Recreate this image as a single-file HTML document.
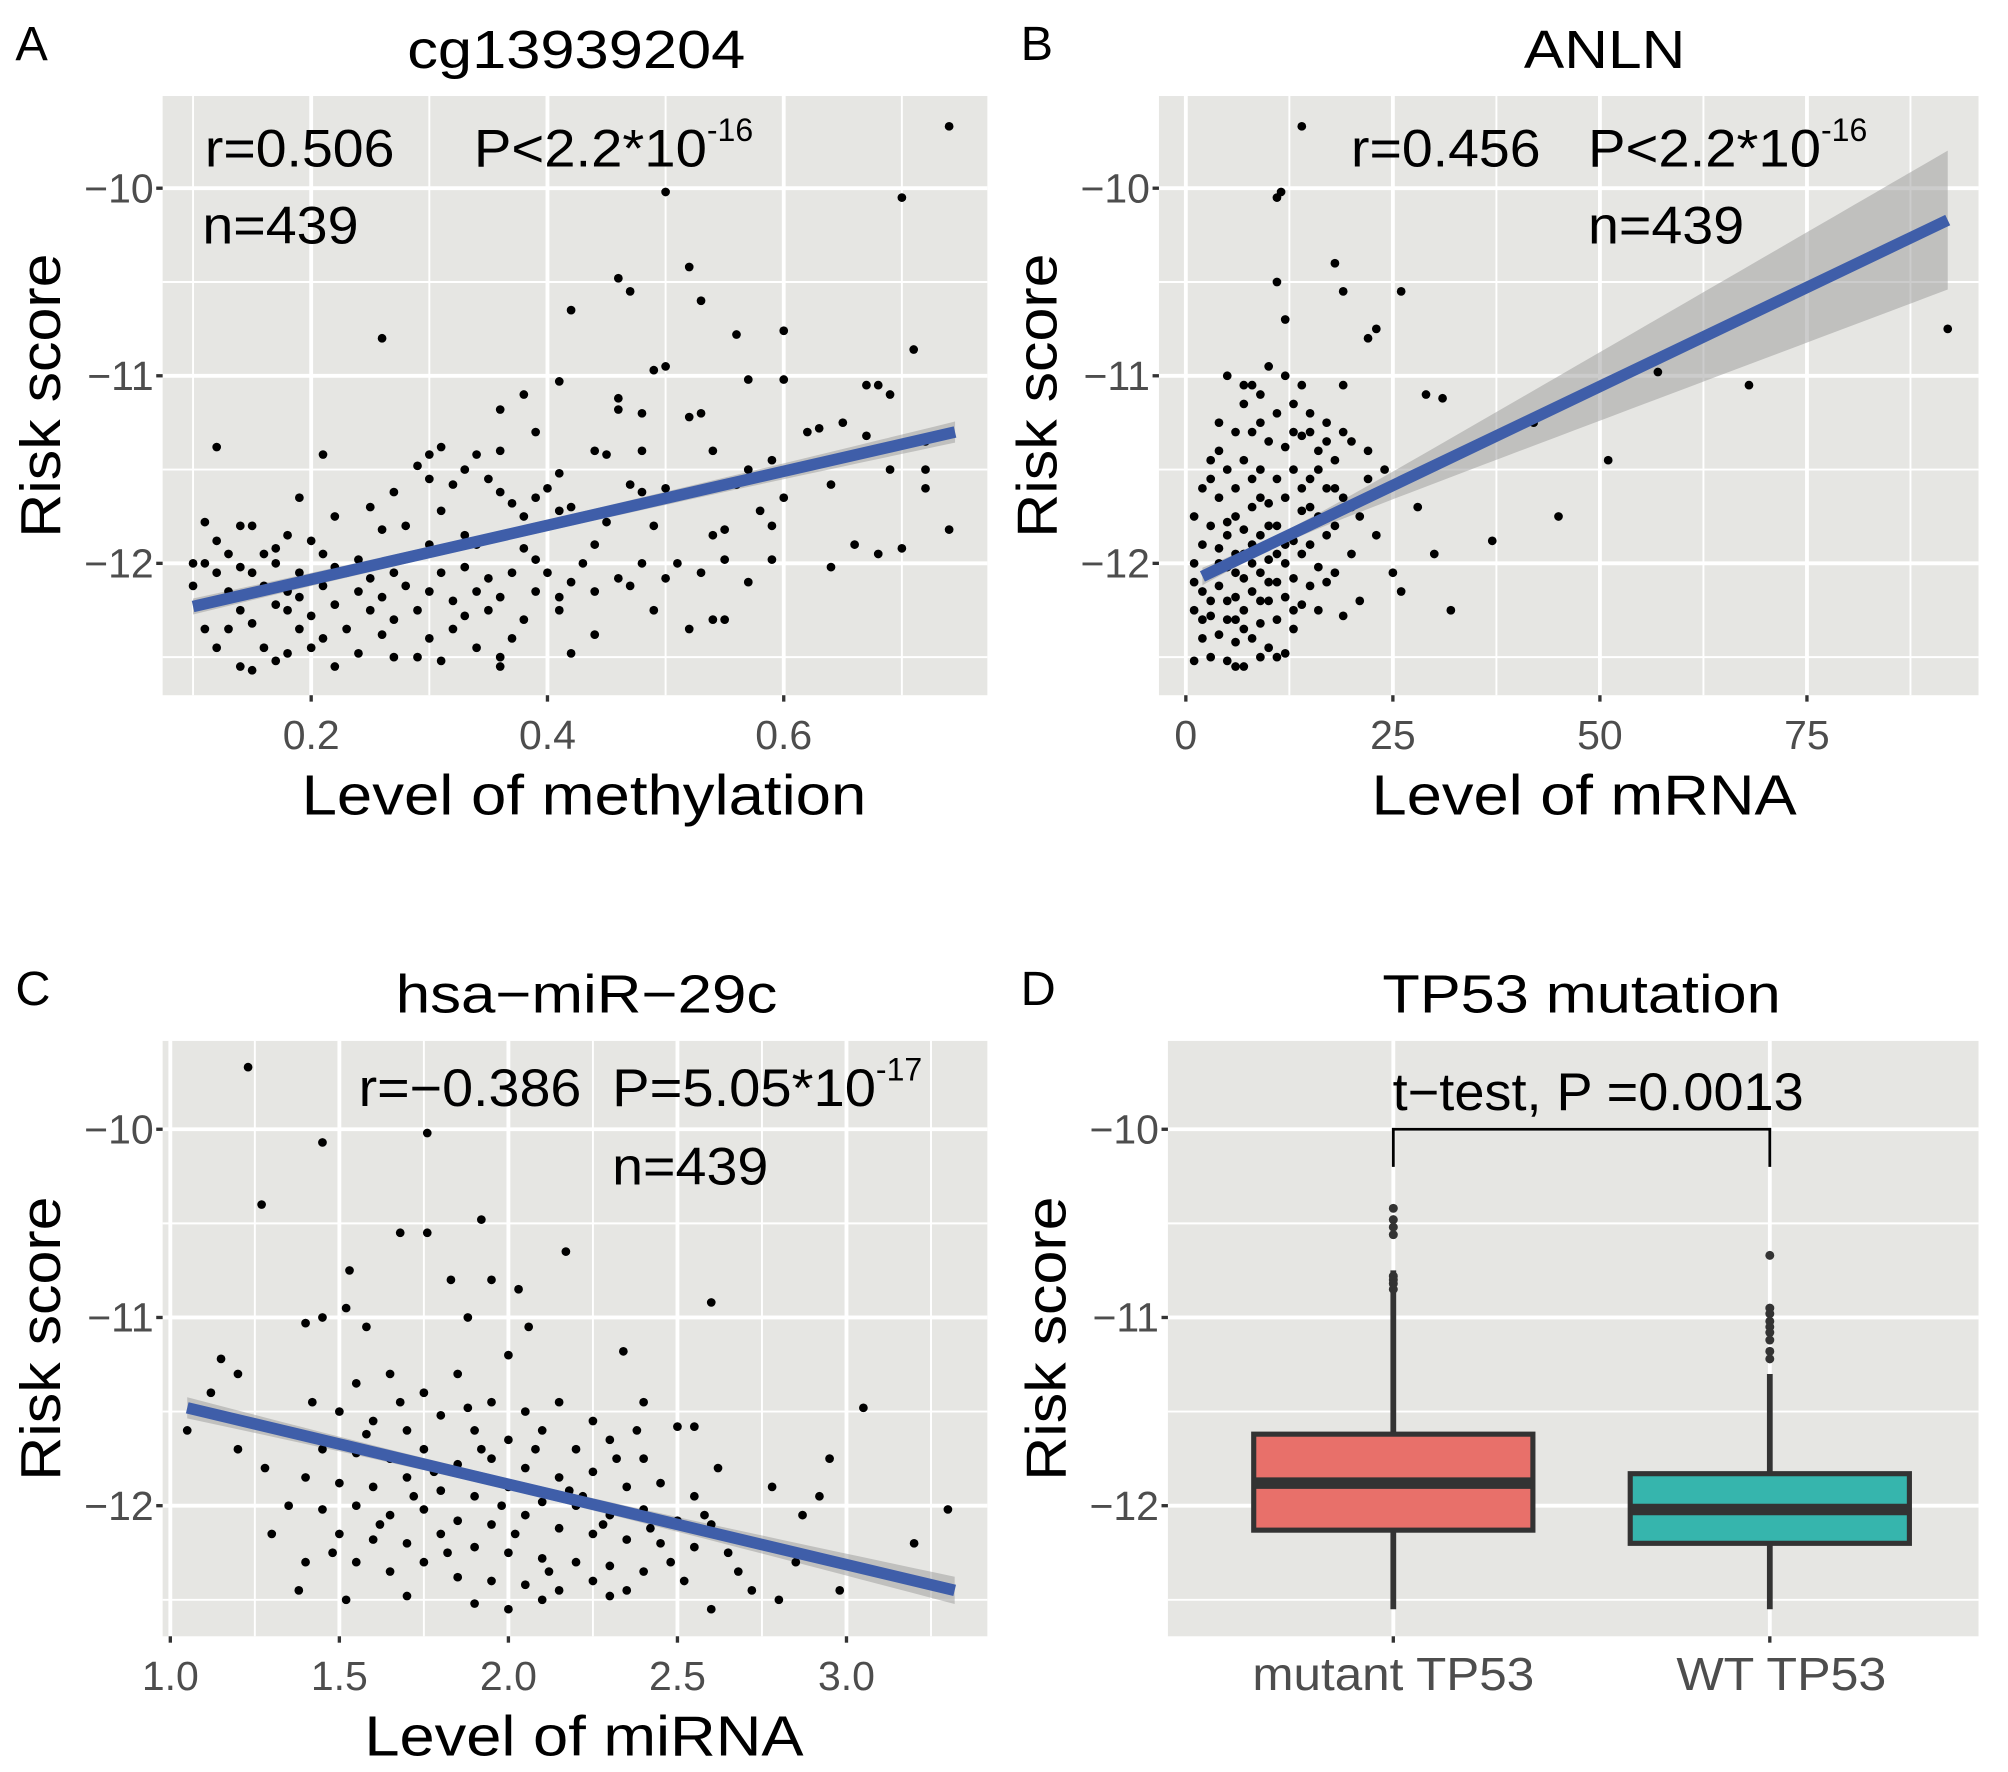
<!DOCTYPE html>
<html><head><meta charset="utf-8">
<style>
html,body{margin:0;padding:0;background:#fff;}
svg{display:block;font-family:"Liberation Sans",Arial,sans-serif;}
</style></head>
<body>
<svg id="fig" width="2008" height="1772" viewBox="0 0 1568 1384" preserveAspectRatio="none" xmlns="http://www.w3.org/2000/svg"></svg>
<script>
// ---- Panel A data (methylation vs risk) ----
const aX = [0.74,0.50,0.70,0.52,0.46,0.47,0.53,0.42,0.26,0.56,0.60,0.71,0.50,0.49,0.41,0.57,0.60,0.67,0.68,0.69,0.38,0.46,0.36,0.46,0.48,0.53,0.52,0.65,0.63,0.62,0.39,0.67,0.12,0.31,0.30,0.21,0.34,0.36,0.44,0.45,0.48,0.54,0.59,0.72,0.72,0.29,0.57,0.33,0.35,0.41,0.30,0.32,0.40,0.47,0.50,0.56,0.64,0.69,0.72,0.27,0.36,0.39,0.48,0.19,0.37,0.42,0.31,0.60,0.58,0.25,0.22,0.38,0.41,0.45,0.49,0.11,0.14,0.15,0.26,0.28,0.33,0.36,0.54,0.55,0.59,0.74,0.12,0.18,0.20,0.30,0.34,0.38,0.44,0.66,0.70,0.68,0.13,0.16,0.17,0.21,0.24,0.29,0.39,0.43,0.48,0.51,0.55,0.59,0.64,0.10,0.11,0.12,0.14,0.15,0.17,0.19,0.20,0.22,0.23,0.25,0.27,0.31,0.33,0.35,0.37,0.40,0.42,0.46,0.50,0.53,0.57,0.10,0.13,0.16,0.18,0.19,0.21,0.24,0.26,0.28,0.30,0.32,0.34,0.36,0.39,0.41,0.44,0.47,0.11,0.14,0.17,0.18,0.20,0.22,0.25,0.27,0.29,0.33,0.35,0.38,0.41,0.49,0.52,0.54,0.55,0.11,0.13,0.15,0.19,0.21,0.23,0.26,0.30,0.32,0.37,0.44,0.12,0.16,0.18,0.20,0.24,0.27,0.29,0.34,0.36,0.42,0.14,0.15,0.17,0.31,0.36,0.22];
const aY = [-9.67,-10.02,-10.05,-10.42,-10.48,-10.55,-10.6,-10.65,-10.8,-10.78,-10.76,-10.86,-10.95,-10.97,-11.03,-11.02,-11.02,-11.05,-11.05,-11.1,-11.1,-11.12,-11.18,-11.18,-11.2,-11.2,-11.22,-11.25,-11.28,-11.3,-11.3,-11.32,-11.38,-11.38,-11.42,-11.42,-11.42,-11.4,-11.4,-11.42,-11.4,-11.4,-11.45,-11.35,-11.5,-11.48,-11.5,-11.5,-11.55,-11.52,-11.55,-11.58,-11.6,-11.58,-11.6,-11.58,-11.58,-11.5,-11.6,-11.62,-11.62,-11.65,-11.62,-11.65,-11.68,-11.7,-11.72,-11.65,-11.72,-11.7,-11.75,-11.75,-11.72,-11.78,-11.8,-11.78,-11.8,-11.8,-11.82,-11.8,-11.85,-11.85,-11.85,-11.82,-11.8,-11.82,-11.88,-11.85,-11.88,-11.9,-11.9,-11.92,-11.9,-11.9,-11.92,-11.95,-11.95,-11.95,-11.92,-11.95,-11.98,-11.95,-11.98,-12.0,-12.0,-12.0,-11.98,-11.98,-12.02,-12.0,-12.0,-12.05,-12.02,-12.05,-12.0,-12.05,-12.08,-12.02,-12.05,-12.08,-12.05,-12.05,-12.02,-12.08,-12.05,-12.05,-12.1,-12.08,-12.08,-12.05,-12.1,-12.12,-12.15,-12.12,-12.15,-12.18,-12.12,-12.15,-12.18,-12.12,-12.15,-12.2,-12.15,-12.18,-12.15,-12.18,-12.15,-12.12,-12.22,-12.25,-12.22,-12.25,-12.28,-12.22,-12.25,-12.3,-12.25,-12.28,-12.25,-12.3,-12.25,-12.25,-12.35,-12.3,-12.3,-12.35,-12.35,-12.32,-12.35,-12.4,-12.35,-12.38,-12.4,-12.35,-12.4,-12.38,-12.45,-12.45,-12.48,-12.45,-12.48,-12.5,-12.5,-12.45,-12.5,-12.48,-12.55,-12.57,-12.52,-12.52,-12.55,-12.55];
const aFitX = [0.10,0.745];
const aFitY = [-12.23,-11.3];
const aXTicks = [0.2,0.4,0.6];
const aXTickLabels = ["0.2","0.4","0.6"];
const aXMinor = [0.1,0.3,0.5,0.7];

// ---- Panel B data (mRNA vs risk) ----
const bX = [14,11,11.5,11,18,19,12,26,22,23,92,57,68,29,31,42,51,45,37,30,25,26,32,28,21,5,8,10,12,14,7,9,11,13,15,17,19,6,4,8,10,12,14,16,18,20,3,5,7,9,11,13,15,17,19,22,24,2,4,6,8,10,12,14,16,18,21,1,3,5,7,9,11,13,15,17,20,2,4,6,8,10,12,14,16,18,1,3,5,7,9,11,13,15,17,2,4,6,8,10,12,14,16,19,1,3,5,7,9,11,13,2,4,6,8,10,12,3,5,7,9,11,1,6,4,6,8,10,6,8,4,3,5,7,9,11,13,15,7,9,5,3,2,1,6,10,12,14,16,18,20,22,19,23,17,15,13,9,7];
const bY = [-9.67,-10.05,-10.02,-10.5,-10.4,-10.55,-10.7,-10.55,-10.8,-10.75,-10.75,-10.98,-11.05,-11.1,-11.12,-11.25,-11.45,-11.75,-11.88,-11.95,-12.05,-12.15,-12.25,-11.7,-12.2,-11.0,-11.05,-10.95,-11.0,-11.05,-11.15,-11.1,-11.2,-11.15,-11.2,-11.25,-11.3,-11.3,-11.25,-11.3,-11.35,-11.38,-11.32,-11.4,-11.45,-11.35,-11.45,-11.5,-11.45,-11.5,-11.55,-11.5,-11.55,-11.6,-11.65,-11.55,-11.5,-11.6,-11.65,-11.6,-11.7,-11.68,-11.65,-11.72,-11.75,-11.8,-11.75,-11.75,-11.8,-11.78,-11.82,-11.85,-11.8,-11.88,-11.9,-11.85,-11.95,-11.9,-11.92,-11.95,-11.9,-11.98,-12.0,-11.95,-12.02,-12.05,-12.0,-12.05,-12.02,-12.08,-12.05,-12.1,-12.08,-12.12,-12.1,-12.15,-12.12,-12.18,-12.15,-12.2,-12.18,-12.22,-12.25,-12.28,-12.25,-12.28,-12.3,-12.25,-12.32,-12.3,-12.35,-12.4,-12.38,-12.42,-12.4,-12.45,-12.48,-12.5,-12.52,-12.55,-12.5,-12.5,-12.52,-12.55,-11.4,-11.75,-11.55,-11.8,-12.3,-12.0,-12.0,-12.2,-12.2,-12.35,-12.2,-11.95,-12.25,-11.7,-11.95,-11.65,-11.85,-11.55,-12.3,-12.1,-12.05,-12.1,-11.9,-11.6,-11.5,-11.6,-11.7,-11.4,-11.05,-11.85,-11.35,-11.3,-11.3,-11.25,-11.05];
const bFitX = [2,92];
const bFitY = [-12.07,-10.17];
const bXTicks = [0,25,50,75];
const bXTickLabels = ["0","25","50","75"];
const bXMinor = [12.5,37.5,62.5,87.5];

// ---- Panel C data (miRNA vs risk) ----
const cX = [1.23,1.27,1.45,1.76,1.68,1.76,1.92,2.17,2.6,1.53,1.52,1.83,1.95,2.03,1.4,1.45,1.58,1.88,2.06,2.34,3.05,2.0,1.05,1.12,1.2,1.15,3.3,3.2,2.87,2.92,2.95,2.5,2.55,2.4,2.98,2.8,1.52,1.3,1.4,1.55,1.65,1.75,1.85,1.95,2.05,2.15,2.25,1.5,1.6,1.7,1.8,1.9,2.0,2.1,2.2,2.3,2.4,1.45,1.55,1.65,1.75,1.85,1.95,2.05,2.15,2.25,2.35,2.45,2.55,1.4,1.5,1.6,1.7,1.8,1.9,2.0,2.1,2.2,2.3,2.4,2.5,2.6,1.35,1.45,1.55,1.65,1.75,1.85,1.95,2.05,2.15,2.25,2.35,2.45,2.55,2.65,2.75,1.5,1.6,1.7,1.8,1.9,2.0,2.1,2.2,2.3,2.4,1.55,1.65,1.75,1.85,1.95,2.05,2.15,2.25,2.35,1.7,1.9,2.0,2.1,2.3,2.6,1.58,1.68,1.78,1.88,1.98,2.08,2.18,2.28,2.38,2.48,2.58,2.68,2.78,1.42,1.32,1.28,1.2,1.62,1.72,1.82,1.92,2.02,2.12,2.22,2.32,2.42,2.52,2.62,2.72,2.85,1.48,1.38];
const cY = [-9.67,-10.4,-10.07,-10.02,-10.55,-10.55,-10.48,-10.65,-10.92,-10.75,-10.95,-10.8,-10.8,-10.85,-11.03,-11.0,-11.05,-11.0,-11.05,-11.18,-11.48,-11.2,-11.6,-11.4,-11.3,-11.22,-12.02,-12.2,-12.05,-11.95,-11.75,-11.58,-11.58,-11.45,-12.45,-12.5,-12.5,-12.15,-12.3,-11.35,-11.3,-11.4,-11.3,-11.45,-11.5,-11.45,-11.55,-11.5,-11.55,-11.6,-11.52,-11.6,-11.65,-11.6,-11.7,-11.65,-11.75,-11.7,-11.72,-11.75,-11.7,-11.78,-11.75,-11.8,-11.85,-11.82,-11.9,-11.88,-11.95,-11.85,-11.88,-11.9,-11.85,-11.92,-11.95,-11.9,-11.98,-12.0,-12.05,-12.02,-12.08,-12.1,-12.0,-12.02,-12.0,-12.05,-12.02,-12.08,-12.1,-12.05,-12.12,-12.15,-12.18,-12.2,-12.22,-12.25,-12.2,-12.15,-12.18,-12.2,-12.15,-12.22,-12.25,-12.28,-12.3,-12.32,-12.35,-12.3,-12.35,-12.3,-12.38,-12.4,-12.42,-12.45,-12.4,-12.45,-12.48,-12.52,-12.55,-12.5,-12.48,-12.55,-11.62,-11.45,-11.82,-11.48,-12.0,-11.7,-11.92,-12.1,-11.6,-12.3,-12.05,-12.35,-11.9,-11.45,-11.6,-11.8,-11.7,-12.1,-11.95,-12.25,-11.7,-12.15,-12.35,-11.95,-11.75,-12.12,-12.4,-11.8,-12.45,-12.3,-12.25,-12.45];
const cFitX = [1.05,3.32];
const cFitY = [-11.48,-12.45];
const cXTicks = [1.0,1.5,2.0,2.5,3.0];
const cXTickLabels = ["1.0","1.5","2.0","2.5","3.0"];
const cXMinor = [1.25,1.75,2.25,2.75,3.25];

// ---- Panel D data (boxplot) ----
const dGroups = ["mutant TP53","WT TP53"];
const dQ1 = [-12.13,-12.2];
const dMed = [-11.88,-12.02];
const dQ3 = [-11.62,-11.83];
const dLow = [-12.55,-12.55];
const dHigh = [-10.75,-11.3];
const dFill = ["#e8706a","#36b5ad"];
const dOutMut = [-10.42,-10.48,-10.52,-10.56,-10.78,-10.8,-10.82,-10.85];
const dOutWT = [-10.67,-10.95,-10.98,-11.02,-11.05,-11.08,-11.12,-11.18,-11.22];

const yTicks = [-10,-11,-12];
const yTickLabels = ["\u221210","\u221211","\u221212"];
const yMinor = [-10.5,-11.5,-12.5];

const NS = "http://www.w3.org/2000/svg";
const svg = document.getElementById('fig');
function mk(tag, attrs, parent, text){
  const e = document.createElementNS(NS, tag);
  for (const k in attrs) e.setAttribute(k, attrs[k]);
  if (text !== undefined) e.textContent = text;
  (parent||svg).appendChild(e);
  return e;
}
function stretch(e, len){ e.setAttribute('textLength', len); e.setAttribute('lengthAdjust','spacingAndGlyphs'); }
function lin(d0,d1,r0,r1){ return v => r0 + (v-d0)*(r1-r0)/(d1-d0); }

function panel(o){
  const g = mk('g',{});
  
  
  const bg = mk('rect',{x:o.L,y:o.T,width:o.R-o.L,height:o.B-o.T,fill:'#e6e6e3'},g);
  
  
  const x = o.x, y = o.y;
  yMinor.forEach(v=>{ const l = mk('line',{x1:o.L,x2:o.R,y1:y(v),y2:y(v),stroke:'#fff','stroke-width':1.5},g);
      });
  (o.xMinor||[]).forEach(v=>{ const l = mk('line',{x1:x(v),x2:x(v),y1:o.T,y2:o.B,stroke:'#fff','stroke-width':1.5},g);
      });
  yTicks.forEach((v,i)=>{
    const l = mk('line',{x1:o.L,x2:o.R,y1:y(v),y2:y(v),stroke:'#fff','stroke-width':3},g);
     
    const t = mk('line',{x1:o.L-5,x2:o.L,y1:y(v),y2:y(v),stroke:'#333','stroke-width':2.6},g);
     
    const tl = mk('text',{x:o.L-7,y:y(v)+11,'text-anchor':'end','font-size':32,fill:'#4d4d4d'},g,yTickLabels[i]);
     
  });
  o.xTicks.forEach((v,i)=>{
    const l = mk('line',{x1:x(v),x2:x(v),y1:o.T,y2:o.B,stroke:'#fff','stroke-width':3},g);
     
    const t = mk('line',{x1:x(v),x2:x(v),y1:o.B,y2:o.B+5,stroke:'#333','stroke-width':2.6},g);
     
    const lx = o.xTickLabelX ? o.xTickLabelX[i] : x(v);
    const tl = mk('text',{x:lx,y:o.B+42,'text-anchor':'middle','font-size':o.xTickSize||32,fill:'#4d4d4d'},g,o.xTickLabels[i]);
    if (o.xTickLens) stretch(tl, o.xTickLens[i]);
     
  });
  const yt = mk('text',{x:0,y:0,'text-anchor':'middle','font-size':44,fill:'#000',transform:`translate(${o.L-80},${(o.T+o.B)/2}) rotate(-90)`},g,'Risk score');
  stretch(yt, 222);
   
  if (o.xTitle){ const xt = mk('text',{x:o.xTitleX,y:o.B+93,'text-anchor':'middle','font-size':44,fill:'#000'},g,o.xTitle);
    stretch(xt, o.xTitleLen);
      }
  const ti = mk('text',{x:o.titleX,y:o.T-22,'text-anchor':'middle','font-size':42,fill:'#000'},g,o.title);
  stretch(ti, o.titleLen);
   
  const pl = mk('text',{x:o.letterX,y:o.T-28,'font-size':38,fill:'#000'},g,o.letter);
   
  return g;
}

function scatter(o, xs, ys, fx, fy, seA, seB, xm){
  const g = panel(o);
  const x=o.x, y=o.y;
  const n=40, up=[], dn=[];
  for(let i=0;i<=n;i++){
    const xv = fx[0]+(fx[1]-fx[0])*i/n;
    const yv = fy[0]+(fy[1]-fy[0])*(xv-fx[0])/(fx[1]-fx[0]);
    const h = Math.sqrt(seA*seA + Math.pow((xv-xm)*seB,2));
    up.push(x(xv)+','+y(yv+h)); dn.unshift(x(xv)+','+y(yv-h));
  }
  const rib = mk('polygon',{points:up.concat(dn).join(' '),fill:'#999','fill-opacity':0.5},g);
   
  xs.forEach((v,i)=>{
    const c = mk('circle',{cx:x(v),cy:y(ys[i]),r:3.4,fill:'#000'},g);
     
  });
  const fl = mk('line',{x1:x(fx[0]),y1:y(fy[0]),x2:x(fx[1]),y2:y(fy[1]),stroke:'#3f5ea9','stroke-width':9},g);
   
  return g;
}
function annot(g, items){
  items.forEach(it=>{
    const t = mk('text',{x:it.x,y:it.y,'font-size':41,fill:'#000'},g);
    const m = mk('tspan',{},t,it.t);
    if (it.len) stretch(m, it.len);
    if (it.sup){ mk('tspan',{dy:-20,'font-size':25},t,it.sup); }
     
  });
}

// Panel A
const yA = lin(-10,-12,147,440);
const gA = scatter({name:'panel-a',L:127,R:771,T:75,B:543,x:lin(0.2,0.6,243,612),y:yA,xTicks:aXTicks,xTickLabels:aXTickLabels,xMinor:aXMinor,xTitle:'Level of methylation',xTitleX:456,xTitleLen:441,title:'cg13939204',titleLen:264,titleX:450,letter:'A',letterX:12},aX,aY,aFitX,aFitY,0.03,0.12,0.35);
annot(gA,[{x:160,y:130,t:'r=0.506',len:148,n:'correlation-label'},{x:370,y:130,t:'P<2.2*10',len:182,sup:'-16',n:'p-value-label'},{x:158,y:190,t:'n=439',len:122,n:'sample-size-label'}]);

// Panel B
const gB = scatter({name:'panel-b',L:905,R:1545,T:75,B:543,x:lin(0,75,926,1411),y:yA,xTicks:bXTicks,xTickLabels:bXTickLabels,xMinor:bXMinor,xTitle:'Level of mRNA',xTitleX:1237,xTitleLen:332,title:'ANLN',titleLen:126,titleX:1253,letter:'B',letterX:797},bX,bY,bFitX,bFitY,0.03,0.0045,10);
annot(gB,[{x:1055,y:130,t:'r=0.456',len:148,n:'correlation-label'},{x:1240,y:130,t:'P<2.2*10',len:182,sup:'-16',n:'p-value-label'},{x:1240,y:190,t:'n=439',len:122,n:'sample-size-label'}]);

// Panel C
const yC = lin(-10,-12,882,1176);
const gC = scatter({name:'panel-c',L:127,R:771,T:813,B:1278,x:lin(1.0,3.0,133,661),y:yC,xTicks:cXTicks,xTickLabels:cXTickLabels,xMinor:cXMinor,xTitle:'Level of miRNA',xTitleX:456,xTitleLen:343,title:'hsa\u2212miR\u221229c',titleLen:298,titleX:458,letter:'C',letterX:12},cX,cY,cFitX,cFitY,0.03,0.05,2.0);
annot(gC,[{x:280,y:864,t:'r=\u22120.386',len:174,n:'correlation-label'},{x:478,y:864,t:'P=5.05*10',len:206,sup:'-17',n:'p-value-label'},{x:478,y:925,t:'n=439',len:122,n:'sample-size-label'}]);

// Panel D
const xD = i => [1088,1382][i];
const gD = panel({name:'panel-d',L:912,R:1545,T:813,B:1278,x:i=>xD(i),y:yC,xTicks:[0,1],xTickLabels:dGroups,xTickLabelX:[1088,1391],xTickLens:[220,164],xMinor:[],xTickSize:36,title:'TP53 mutation',titleLen:311,titleX:1235,letter:'D',letterX:797});
dGroups.forEach((name,i)=>{
  const cx = xD(i), hw = 109;
  const w1 = mk('line',{x1:cx,x2:cx,y1:yC(dHigh[i]),y2:yC(dQ3[i]),stroke:'#333','stroke-width':4.5},gD);
   
  const w2 = mk('line',{x1:cx,x2:cx,y1:yC(dQ1[i]),y2:yC(dLow[i]),stroke:'#333','stroke-width':4.5},gD);
   
  const b = mk('rect',{x:cx-hw,y:yC(dQ3[i]),width:2*hw,height:yC(dQ1[i])-yC(dQ3[i]),fill:dFill[i],stroke:'#333','stroke-width':4},gD);
   
  const m = mk('line',{x1:cx-hw,x2:cx+hw,y1:yC(dMed[i]),y2:yC(dMed[i]),stroke:'#333','stroke-width':9},gD);
   
  (i?dOutWT:dOutMut).forEach(v=>{
    const c = mk('circle',{cx:cx,cy:yC(v),r:3.5,fill:'#333'},gD);
     
  });
});
const br = mk('polyline',{points:`${xD(0)},${yC(-10.2)} ${xD(0)},${yC(-10)} ${xD(1)},${yC(-10)} ${xD(1)},${yC(-10.2)}`,fill:'none',stroke:'#000','stroke-width':2.2},gD);
 
const tt = mk('text',{x:1248,y:867,'text-anchor':'middle','font-size':41,fill:'#000'},gD,'t\u2212test, P =0.0013');
stretch(tt, 321);
 
</script>
</body></html>
